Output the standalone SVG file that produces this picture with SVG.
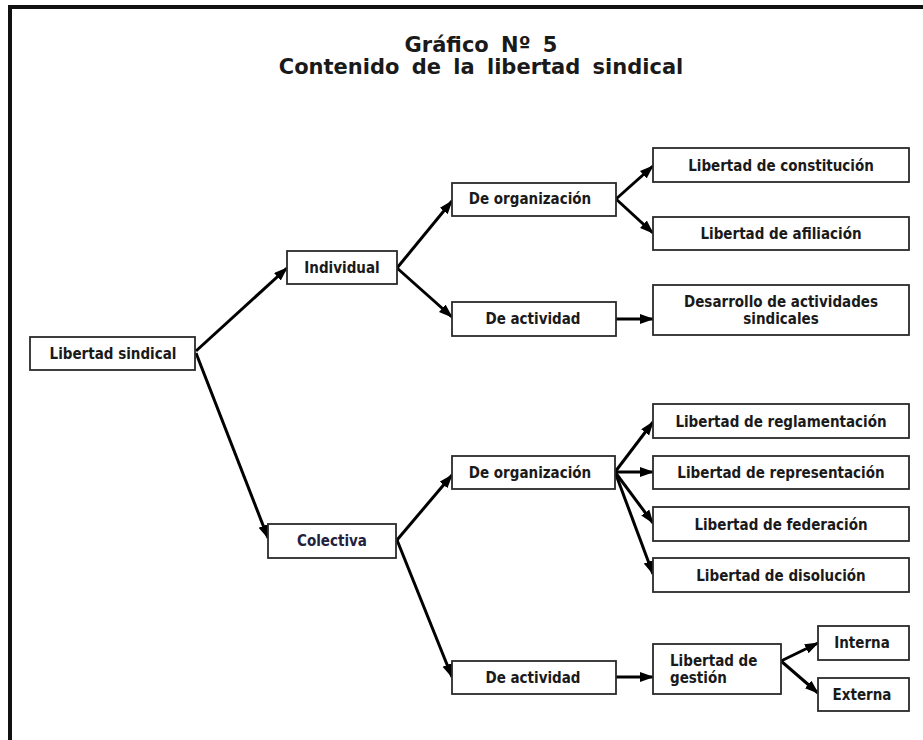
<svg xmlns="http://www.w3.org/2000/svg" width="923" height="740" viewBox="0 0 923 740">
<defs>
<marker id="ah" markerUnits="userSpaceOnUse" markerWidth="14" markerHeight="11" refX="13" refY="5" orient="auto">
<path d="M0,0 L14,5 L0,10 z" fill="#000"/>
</marker>
<style>
.box{fill:#fff;stroke:#2a2a2a;stroke-width:1.8}
.t{font-family:"DejaVu Sans","Liberation Sans",sans-serif;font-stretch:condensed;font-weight:bold;font-size:15px;fill:#1a1a1a;text-anchor:middle}
.tl{text-anchor:start}
.title{font-family:"DejaVu Sans","Liberation Sans",sans-serif;font-weight:bold;font-size:21px;fill:#1a1a1a;text-anchor:middle;word-spacing:5px}
.c{stroke:#000;stroke-width:3;fill:none;marker-end:url(#ah)}
</style>
</defs>
<rect width="923" height="740" fill="#fff"/>
<path d="M10,745 V7 H930" fill="none" stroke="#111" stroke-width="4"/>
<g id="title">
<text class="title" x="481" y="52">Gráfico Nº 5</text>
<text class="title" x="481" y="74">Contenido de la libertad sindical</text>
</g>
<g id="connectors">
<line class="c" x1="196" y1="351" x2="287" y2="268"/>
<line class="c" x1="196" y1="353" x2="268" y2="538"/>
<line class="c" x1="397" y1="268" x2="452" y2="201"/>
<line class="c" x1="397" y1="268" x2="452" y2="317"/>
<line class="c" x1="616" y1="199" x2="653" y2="166"/>
<line class="c" x1="616" y1="199" x2="653" y2="233"/>
<line class="c" x1="616" y1="319" x2="653" y2="319"/>
<line class="c" x1="397" y1="540" x2="452" y2="475"/>
<line class="c" x1="397" y1="540" x2="452" y2="677"/>
<line class="c" x1="615" y1="472" x2="653" y2="422"/>
<line class="c" x1="615" y1="472" x2="653" y2="472"/>
<line class="c" x1="615" y1="472" x2="653" y2="523"/>
<line class="c" x1="615" y1="472" x2="653" y2="574"/>
<line class="c" x1="616" y1="677" x2="653" y2="677"/>
<line class="c" x1="781" y1="661" x2="818" y2="643"/>
<line class="c" x1="781" y1="661" x2="818" y2="693"/>
</g>
<g id="n-libertad-sindical"><rect class="box" x="30" y="337" width="165" height="33"/><text class="t" x="113" y="359">Libertad sindical</text></g>
<g id="n-individual"><rect class="box" x="287" y="251" width="110" height="33"/><text class="t" x="342" y="273">Individual</text></g>
<g id="n-colectiva"><rect class="box" x="268" y="524" width="128" height="34"/><text class="t" x="332" y="546" style="fill:#22223f">Colectiva</text></g>
<g id="n-ind-organizacion"><rect class="box" x="452" y="183" width="164" height="33"/><text class="t" x="530" y="204">De organización</text></g>
<g id="n-ind-actividad"><rect class="box" x="452" y="302" width="164" height="34"/><text class="t" x="533" y="324">De actividad</text></g>
<g id="n-constitucion"><rect class="box" x="653" y="148" width="256" height="34"/><text class="t" x="781" y="171">Libertad de constitución</text></g>
<g id="n-afiliacion"><rect class="box" x="653" y="217" width="256" height="33"/><text class="t" x="781" y="239">Libertad de afiliación</text></g>
<g id="n-desarrollo"><rect class="box" x="653" y="285" width="256" height="50"/><text class="t" x="781" y="307">Desarrollo de actividades</text><text class="t" x="781" y="324">sindicales</text></g>
<g id="n-col-organizacion"><rect class="box" x="452" y="456" width="163" height="33"/><text class="t" x="530" y="478">De organización</text></g>
<g id="n-reglamentacion"><rect class="box" x="653" y="404" width="256" height="34"/><text class="t" x="781" y="427">Libertad de reglamentación</text></g>
<g id="n-representacion"><rect class="box" x="653" y="456" width="256" height="33"/><text class="t" x="781" y="478">Libertad de representación</text></g>
<g id="n-federacion"><rect class="box" x="653" y="507" width="256" height="34"/><text class="t" x="781" y="530">Libertad de federación</text></g>
<g id="n-disolucion"><rect class="box" x="653" y="558" width="256" height="34"/><text class="t" x="781" y="581">Libertad de disolución</text></g>
<g id="n-col-actividad"><rect class="box" x="452" y="661" width="164" height="33"/><text class="t" x="533" y="683">De actividad</text></g>
<g id="n-gestion"><rect class="box" x="653" y="644" width="128" height="50"/><text class="t tl" x="670" y="666">Libertad de</text><text class="t tl" x="670" y="683">gestión</text></g>
<g id="n-interna"><rect class="box" x="818" y="626" width="91" height="34"/><text class="t" x="862" y="648">Interna</text></g>
<g id="n-externa"><rect class="box" x="818" y="678" width="91" height="33"/><text class="t" x="862" y="700">Externa</text></g>
</svg>
